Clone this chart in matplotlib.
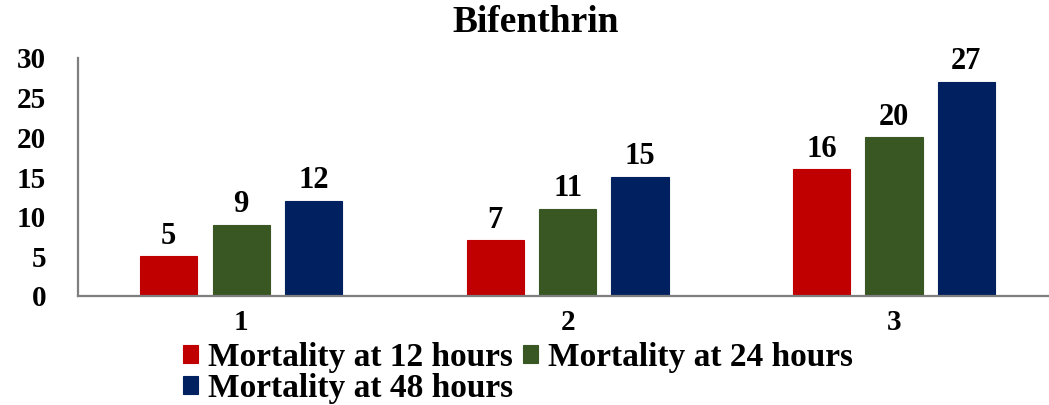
import numpy as np
import matplotlib
matplotlib.use("Agg")
import matplotlib.pyplot as plt

# --- данные ---
categories = ["1", "2", "3"]
series_names = ["Mortality at 12 hours", "Mortality at 24 hours", "Mortality at 48 hours"]
mort_12h = [5, 7, 16]
mort_24h = [9, 11, 20]
mort_48h = [12, 15, 27]
colors = ["#C00000", "#385723", "#002060"]

plt.rcParams['font.family'] = ['Liberation Serif', 'DejaVu Serif']
plt.rcParams['font.weight'] = 'bold'

fig = plt.figure(figsize=(10.49, 4.05), dpi=100)
ax = fig.add_axes([78 / 1049, (405 - 296) / 405, (1049 - 78) / 1049, (296 - 58) / 405])

x = np.arange(len(categories))
width = 0.175
offset = 0.222
handles = []
for i, (vals, name, col) in enumerate(zip([mort_12h, mort_24h, mort_48h], series_names, colors)):
    bars = ax.bar(x + (i - 1) * offset, vals, width, color=col, label=name,
                  edgecolor=col, linewidth=0.8)
    handles.append(bars)
    for b, v in zip(bars, vals):
        ax.annotate(str(v), (b.get_x() + b.get_width() / 2, v),
                    xytext=(0, 4), textcoords="offset points",
                    ha="center", va="bottom", fontsize=22, fontweight="bold")

ax.set_xlim(-0.5, 2.475)
ax.set_ylim(0, 30)
ax.set_yticks([0, 5, 10, 15, 20, 25, 30])
ax.set_xticks(x)
ax.set_xticklabels(categories)
ax.tick_params(axis="y", length=0, pad=23, labelsize=21)
ax.tick_params(axis="x", length=0, pad=9, labelsize=21)
for lab in ax.get_xticklabels() + ax.get_yticklabels():
    lab.set_fontweight("bold")

for s in ["top", "right"]:
    ax.spines[s].set_visible(False)
for s in ["left", "bottom"]:
    ax.spines[s].set_color("#7f7f7f")
    ax.spines[s].set_linewidth(1.6)

fig.text(536 / 1049, 1 - 22 / 405, "Bifenthrin", ha="center", va="center",
         fontsize=27, fontweight="bold")

# порядок для заполнения по строкам
order = [0, 2, 1]
fig.legend([handles[i] for i in order], [series_names[i] for i in order],
           ncol=2, loc="upper left", bbox_to_anchor=(183 / 1049, 1 - 342 / 405),
           frameon=False, prop={"weight": "bold", "size": 24},
           handlelength=0.45, handleheight=0.45, handletextpad=0.3,
           columnspacing=0.3, labelspacing=0.0, borderpad=0, borderaxespad=0)

plt.savefig("out.png", dpi=100)
